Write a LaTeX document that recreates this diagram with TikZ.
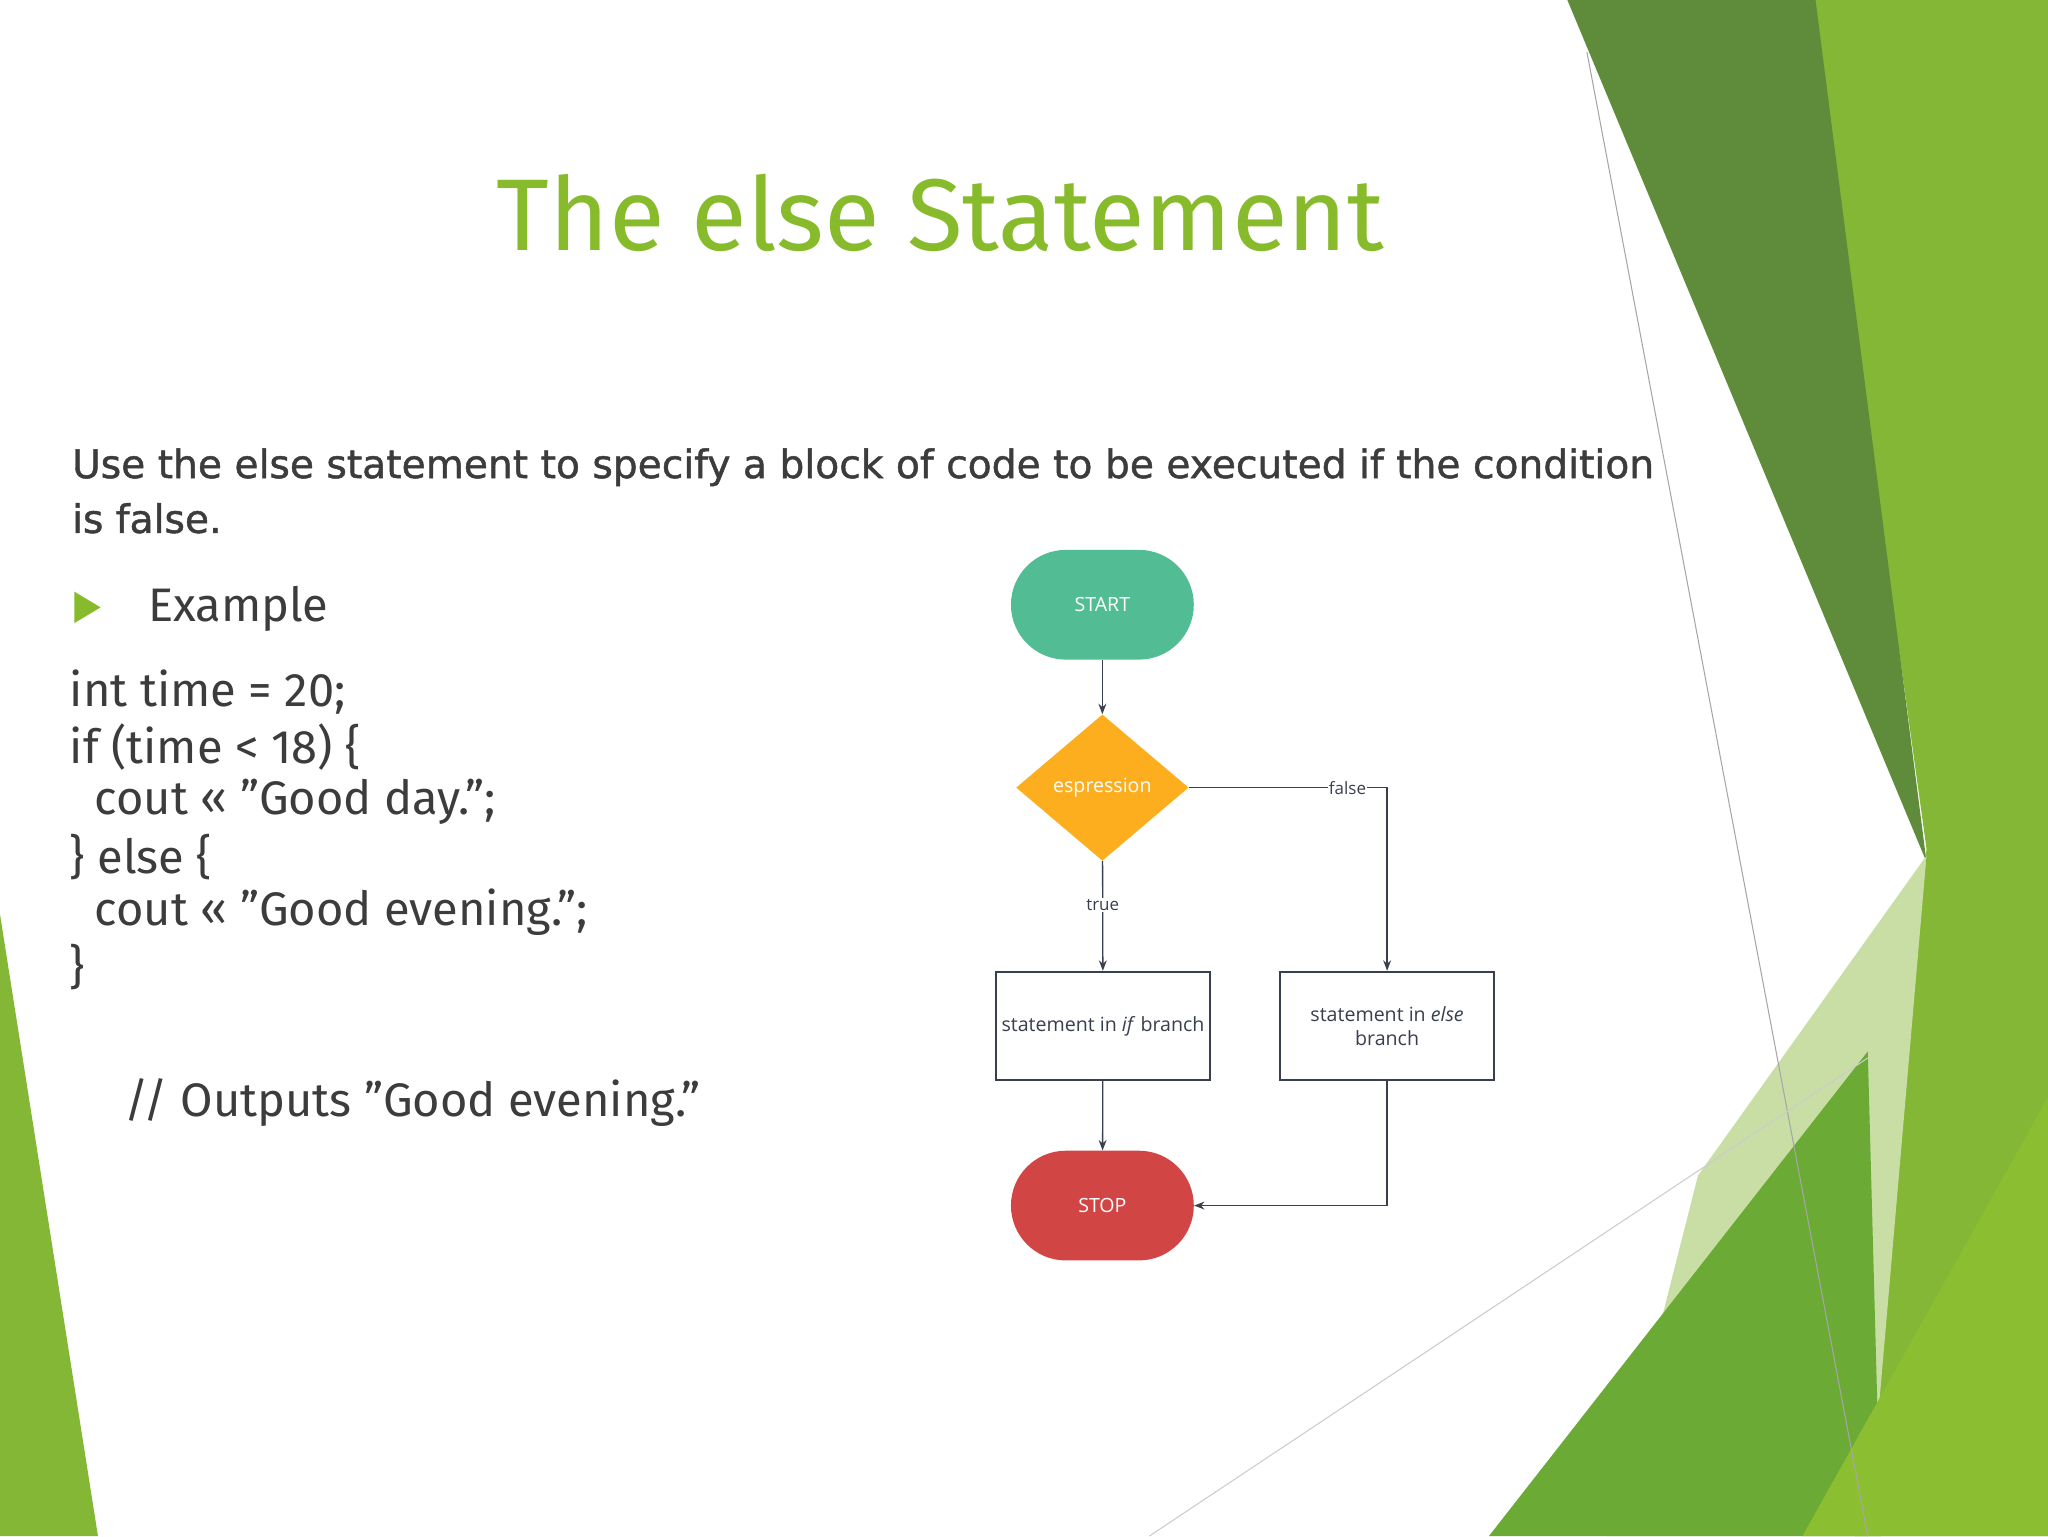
\documentclass[tikz,border=0pt]{standalone}
\usepackage{fontspec}
\setmainfont{Fira Sans}[Ligatures=ResetAll]
\newfontfamily\flowfont{Open Sans}
\newfontfamily\introfont{DejaVu Sans}[FakeBold=1.2]
\usetikzlibrary{shapes.geometric,arrows.meta}
\definecolor{tgreen}{HTML}{87BB2C}
\definecolor{body}{HTML}{3C3C3C}
\definecolor{edge}{HTML}{3A3F50}
\newcommand{\qq}{\char34 }
\tikzset{
 term/.style={rounded corners=42pt,minimum width=140pt,minimum height=84pt,text=white,font=\flowfont\fontsize{15}{18}\selectfont},
 sbox/.style={draw=edge,line width=1.5pt,minimum width=164pt,minimum height=83pt,fill=white,text=edge,align=center,font=\flowfont\fontsize{15}{18}\selectfont},
 conn/.style={draw=edge,line width=1pt,-{Stealth[length=8pt,width=6pt]}},
 lbl/.style={fill=white,text=edge,inner sep=1pt,font=\flowfont\fontsize{13}{15}\selectfont},
 code/.style={anchor=west,text=body,font=\fontsize{36}{42}\selectfont}
}
\begin{document}
\begin{tikzpicture}[x=1pt,y=-1pt]
\useasboundingbox (0,0) rectangle (1568,1176);
\fill[white] (0,0) rectangle (1568,1176);
% background shapes
\fill[color={rgb,255:red,132;green,183;blue,53}] (1385,0) -- (1568,0) -- (1568,1176) -- (1420,1176) -- (1475,650) -- cycle;
\fill[color={rgb,255:red,94;green,140;blue,58}] (1200,0) -- (1390,0) -- (1475,660) -- cycle;
\fill[color={rgb,255:red,200;green,222;blue,165}] (1300,900) -- (1475,655) -- (1430,1176) -- (1230,1176) -- cycle;
\fill[color={rgb,255:red,106;green,170;blue,53}] (1140,1176) -- (1430,805) -- (1440,1176) -- cycle;
\fill[color={rgb,255:red,140;green,190;blue,50}] (1380,1176) -- (1568,840) -- (1568,1176) -- cycle;
\fill[color={rgb,255:red,132;green,183;blue,53}] (0,700) -- (75,1176) -- (0,1176) -- cycle;
\draw[gray!70,line width=0.8pt] (1215,40) -- (1430,1176);
\draw[gray!40,line width=0.8pt] (880,1176) -- (1430,810);
% title
\node[text=tgreen,font=\fontsize{78}{90}\selectfont] (title) at (720,163) {The else Statement};
% body
\node[anchor=north west,text=body,align=left,inner sep=0pt,font=\introfont\fontsize{30}{42}\selectfont] (intro) at (55,343) {Use the else statement to specify a block of code to be executed if the condition\\is false.};
\fill[tgreen] (57,453) -- (77,465) -- (57,477) -- cycle;
\node[code] (ex) at (110,466) {Example};
\node[code] (c1) at (50,530) {int time = 20;};
\node[code] (c2) at (50,572) {if (time < 18) \{};
\node[code] (c3) at (50,614) {\ \ cout << \qq Good day.\qq;};
\node[code] (c4) at (50,656) {\} else \{};
\node[code] (c5) at (50,698) {\ \ cout << \qq Good evening.\qq;};
\node[code] (c6) at (50,740) {\}};
\node[code] (c7) at (92,844) {// Outputs \qq Good evening.\qq};
% flowchart
\node[term,fill={rgb,255:red,82;green,189;blue,149}] (start) at (844,463) {START};
\node[diamond,fill={rgb,255:red,253;green,174;blue,31},minimum width=132pt,minimum height=112pt,inner sep=0pt,aspect=1.2,text=white,font=\flowfont\fontsize{15}{18}\selectfont] (expr) at (844,603) {espression};
\node[sbox] (ifb) at (844.5,785.5) {statement in \textit{if} branch};
\node[sbox] (elseb) at (1062,785.5) {statement in \textit{else}\\branch};
\node[term,fill={rgb,255:red,210;green,69;blue,69}] (stop) at (844,923) {STOP};
\draw[conn] (start) -- (expr);
\draw[conn] (expr) -- node[lbl,pos=0.4]{true} (ifb);
\draw[conn] (expr.east) -- node[lbl,pos=0.8]{false} (elseb.north |- expr.east) -- (elseb.north);
\draw[conn] (ifb) -- (stop);
\draw[conn] (elseb.south) |- (stop.east);
\end{tikzpicture}
\end{document}
